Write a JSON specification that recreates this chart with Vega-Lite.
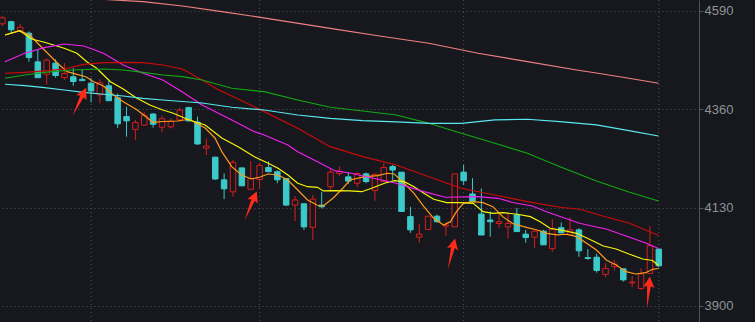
{
  "$schema": "https://vega.github.io/schema/vega-lite/v6.json",
  "width": 699,
  "height": 322,
  "autosize": {"type": "none"},
  "padding": {"left": 0, "top": 0, "right": 56, "bottom": 0},
  "background": "#16181d",
  "view": {"stroke": null},
  "config": {
    "axisY": {"title": null, "format": "d", "grid": true, "gridColor": "#52555d", "gridDash": [1, 3], "gridWidth": 1, "gridOpacity": 1, "domain": true, "domainColor": "#4f5259", "domainWidth": 1, "ticks": true, "tickSize": 4, "tickColor": "#52555d", "labelColor": "#8f9297", "labelFont": "Liberation Sans", "labelFontSize": 13, "labelPadding": 1}
  },
  "datasets": {
    "candles": [
      {"i":0,"o":4560,"h":4578,"l":4555,"c":4574},
      {"i":1,"o":4565,"h":4567,"l":4536,"c":4546},
      {"i":2,"o":4543,"h":4560,"l":4540,"c":4552},
      {"i":3,"o":4538,"h":4542,"l":4471,"c":4481},
      {"i":4,"o":4471,"h":4499,"l":4434,"c":4434},
      {"i":5,"o":4442,"h":4479,"l":4418,"c":4475},
      {"i":6,"o":4468,"h":4477,"l":4434,"c":4439},
      {"i":7,"o":4434,"h":4468,"l":4429,"c":4444},
      {"i":8,"o":4436,"h":4456,"l":4415,"c":4425},
      {"i":9,"o":4430,"h":4454,"l":4427,"c":4427},
      {"i":10,"o":4421,"h":4433,"l":4376,"c":4403},
      {"i":11,"o":4394,"h":4430,"l":4374,"c":4422},
      {"i":12,"o":4415,"h":4427,"l":4380,"c":4380},
      {"i":13,"o":4387,"h":4397,"l":4316,"c":4326},
      {"i":14,"o":4343,"h":4366,"l":4296,"c":4333},
      {"i":15,"o":4313,"h":4335,"l":4288,"c":4329},
      {"i":16,"o":4323,"h":4353,"l":4323,"c":4346},
      {"i":17,"o":4349,"h":4351,"l":4317,"c":4325},
      {"i":18,"o":4318,"h":4344,"l":4306,"c":4338},
      {"i":19,"o":4319,"h":4339,"l":4315,"c":4332},
      {"i":20,"o":4335,"h":4364,"l":4331,"c":4358},
      {"i":21,"o":4364,"h":4366,"l":4331,"c":4333},
      {"i":22,"o":4330,"h":4343,"l":4277,"c":4279},
      {"i":23,"o":4269,"h":4292,"l":4253,"c":4274},
      {"i":24,"o":4248,"h":4249,"l":4195,"c":4197},
      {"i":25,"o":4195,"h":4210,"l":4150,"c":4174},
      {"i":26,"o":4167,"h":4241,"l":4156,"c":4236},
      {"i":27,"o":4223,"h":4223,"l":4181,"c":4181},
      {"i":28,"o":4173,"h":4239,"l":4173,"c":4198},
      {"i":29,"o":4196,"h":4234,"l":4174,"c":4229},
      {"i":30,"o":4224,"h":4238,"l":4214,"c":4214},
      {"i":31,"o":4214,"h":4217,"l":4187,"c":4195},
      {"i":32,"o":4198,"h":4198,"l":4134,"c":4136},
      {"i":33,"o":4136,"h":4157,"l":4099,"c":4148},
      {"i":34,"o":4139,"h":4139,"l":4078,"c":4085},
      {"i":35,"o":4084,"h":4160,"l":4054,"c":4150},
      {"i":36,"o":4136,"h":4167,"l":4128,"c":4132},
      {"i":37,"o":4179,"h":4220,"l":4167,"c":4213},
      {"i":38,"o":4210,"h":4226,"l":4204,"c":4215},
      {"i":39,"o":4202,"h":4212,"l":4185,"c":4192},
      {"i":40,"o":4187,"h":4212,"l":4178,"c":4210},
      {"i":41,"o":4209,"h":4212,"l":4187,"c":4191},
      {"i":42,"o":4170,"h":4210,"l":4146,"c":4208},
      {"i":43,"o":4191,"h":4234,"l":4190,"c":4224},
      {"i":44,"o":4226,"h":4230,"l":4195,"c":4218},
      {"i":45,"o":4213,"h":4213,"l":4121,"c":4121},
      {"i":46,"o":4109,"h":4132,"l":4071,"c":4078},
      {"i":47,"o":4061,"h":4092,"l":4048,"c":4068},
      {"i":48,"o":4079,"h":4110,"l":4079,"c":4110},
      {"i":49,"o":4110,"h":4114,"l":4095,"c":4097},
      {"i":50,"o":4087,"h":4095,"l":4064,"c":4089},
      {"i":51,"o":4085,"h":4209,"l":4085,"c":4209},
      {"i":52,"o":4213,"h":4230,"l":4183,"c":4193},
      {"i":53,"o":4162,"h":4199,"l":4142,"c":4144},
      {"i":54,"o":4115,"h":4175,"l":4066,"c":4066},
      {"i":55,"o":4101,"h":4121,"l":4062,"c":4097},
      {"i":56,"o":4093,"h":4118,"l":4083,"c":4097},
      {"i":57,"o":4085,"h":4118,"l":4058,"c":4093},
      {"i":58,"o":4113,"h":4129,"l":4074,"c":4074},
      {"i":59,"o":4068,"h":4078,"l":4048,"c":4060},
      {"i":60,"o":4061,"h":4075,"l":4036,"c":4075},
      {"i":61,"o":4075,"h":4078,"l":4043,"c":4043},
      {"i":62,"o":4034,"h":4103,"l":4027,"c":4079},
      {"i":63,"o":4083,"h":4095,"l":4070,"c":4071},
      {"i":64,"o":4066,"h":4107,"l":4066,"c":4078},
      {"i":65,"o":4078,"h":4082,"l":4015,"c":4029},
      {"i":66,"o":4013,"h":4033,"l":4008,"c":4011},
      {"i":67,"o":4014,"h":4022,"l":3978,"c":3983},
      {"i":68,"o":3974,"h":4000,"l":3967,"c":3988},
      {"i":69,"o":3992,"h":4008,"l":3983,"c":3998},
      {"i":70,"o":3987,"h":3987,"l":3957,"c":3961},
      {"i":71,"o":3954,"h":3970,"l":3944,"c":3956},
      {"i":72,"o":3941,"h":3988,"l":3937,"c":3975},
      {"i":73,"o":3976,"h":4087,"l":3976,"c":4041},
      {"i":74,"o":4033,"h":4033,"l":3990,"c":3994}
    ],
    "ma": [
      {"ma":"MA5","i":0.3,"v":4533.9},{"ma":"MA5","i":1.97,"v":4543.9},{"ma":"MA5","i":3.08,"v":4533.9},{"ma":"MA5","i":4.74,"v":4498.8},{"ma":"MA5","i":6.19,"v":4468.4},{"ma":"MA5","i":7.3,"v":4448.0},{"ma":"MA5","i":8.41,"v":4441.9},{"ma":"MA5","i":9.41,"v":4436.3},{"ma":"MA5","i":10.3,"v":4424.6},{"ma":"MA5","i":11.41,"v":4414.6},{"ma":"MA5","i":12.52,"v":4393.5},{"ma":"MA5","i":13.63,"v":4377.9},{"ma":"MA5","i":15.08,"v":4360.1},{"ma":"MA5","i":16.19,"v":4342.8},{"ma":"MA5","i":16.97,"v":4329.7},{"ma":"MA5","i":18.08,"v":4331.5},{"ma":"MA5","i":19.74,"v":4332.7},{"ma":"MA5","i":21.08,"v":4336.7},{"ma":"MA5","i":22.86,"v":4316.3},{"ma":"MA5","i":23.97,"v":4293.0},{"ma":"MA5","i":24.74,"v":4260.9},{"ma":"MA5","i":25.86,"v":4225.8},{"ma":"MA5","i":26.97,"v":4206.4},{"ma":"MA5","i":28.08,"v":4197.1},{"ma":"MA5","i":28.97,"v":4201.0},{"ma":"MA5","i":29.97,"v":4208.7},{"ma":"MA5","i":31.08,"v":4206.4},{"ma":"MA5","i":32.19,"v":4194.7},{"ma":"MA5","i":33.3,"v":4171.3},{"ma":"MA5","i":34.41,"v":4147.9},{"ma":"MA5","i":35.52,"v":4135.5},{"ma":"MA5","i":36.19,"v":4133.9},{"ma":"MA5","i":37.3,"v":4152.6},{"ma":"MA5","i":38.41,"v":4176.0},{"ma":"MA5","i":39.19,"v":4194.7},{"ma":"MA5","i":40.86,"v":4202.4},{"ma":"MA5","i":42.3,"v":4204.8},{"ma":"MA5","i":43.41,"v":4210.4},{"ma":"MA5","i":44.19,"v":4208.7},{"ma":"MA5","i":45.3,"v":4187.0},{"ma":"MA5","i":46.41,"v":4163.6},{"ma":"MA5","i":47.52,"v":4132.3},{"ma":"MA5","i":48.63,"v":4105.1},{"ma":"MA5","i":49.74,"v":4089.5},{"ma":"MA5","i":50.52,"v":4097.2},{"ma":"MA5","i":51.19,"v":4120.6},{"ma":"MA5","i":51.97,"v":4140.2},{"ma":"MA5","i":53.08,"v":4144.0},{"ma":"MA5","i":54.19,"v":4141.6},{"ma":"MA5","i":55.3,"v":4132.3},{"ma":"MA5","i":56.41,"v":4108.9},{"ma":"MA5","i":57.52,"v":4093.0},{"ma":"MA5","i":59.19,"v":4083.1},{"ma":"MA5","i":60.3,"v":4077.8},{"ma":"MA5","i":61.41,"v":4070.0},{"ma":"MA5","i":62.52,"v":4066.1},{"ma":"MA5","i":63.63,"v":4067.7},{"ma":"MA5","i":64.74,"v":4062.1},{"ma":"MA5","i":65.86,"v":4046.7},{"ma":"MA5","i":66.97,"v":4031.0},{"ma":"MA5","i":68.08,"v":4007.6},{"ma":"MA5","i":69.19,"v":3995.9},{"ma":"MA5","i":70.3,"v":3980.2},{"ma":"MA5","i":71.41,"v":3974.8},{"ma":"MA5","i":72.52,"v":3977.9},{"ma":"MA5","i":73.3,"v":3985.8},{"ma":"MA5","i":73.97,"v":3987.7},
      {"ma":"MA10","i":0.3,"v":4533.9},{"ma":"MA10","i":1.97,"v":4543.9},{"ma":"MA10","i":3.3,"v":4524.5},{"ma":"MA10","i":4.74,"v":4516.8},{"ma":"MA10","i":6.97,"v":4502.8},{"ma":"MA10","i":8.41,"v":4491.1},{"ma":"MA10","i":9.52,"v":4471.4},{"ma":"MA10","i":10.63,"v":4456.0},{"ma":"MA10","i":12.19,"v":4424.6},{"ma":"MA10","i":13.63,"v":4407.6},{"ma":"MA10","i":15.08,"v":4387.2},{"ma":"MA10","i":16.63,"v":4370.1},{"ma":"MA10","i":18.08,"v":4358.4},{"ma":"MA10","i":19.19,"v":4351.4},{"ma":"MA10","i":21.08,"v":4335.1},{"ma":"MA10","i":22.86,"v":4323.4},{"ma":"MA10","i":24.74,"v":4293.0},{"ma":"MA10","i":26.63,"v":4271.9},{"ma":"MA10","i":28.41,"v":4249.2},{"ma":"MA10","i":29.97,"v":4233.8},{"ma":"MA10","i":31.08,"v":4222.1},{"ma":"MA10","i":32.19,"v":4206.4},{"ma":"MA10","i":33.3,"v":4187.0},{"ma":"MA10","i":34.41,"v":4179.0},{"ma":"MA10","i":35.52,"v":4177.6},{"ma":"MA10","i":36.19,"v":4169.0},{"ma":"MA10","i":37.3,"v":4169.7},{"ma":"MA10","i":39.19,"v":4169.0},{"ma":"MA10","i":40.52,"v":4167.3},{"ma":"MA10","i":41.63,"v":4175.3},{"ma":"MA10","i":43.08,"v":4187.0},{"ma":"MA10","i":44.19,"v":4193.1},{"ma":"MA10","i":45.3,"v":4190.7},{"ma":"MA10","i":46.41,"v":4179.0},{"ma":"MA10","i":47.52,"v":4163.6},{"ma":"MA10","i":48.63,"v":4149.6},{"ma":"MA10","i":50.08,"v":4141.6},{"ma":"MA10","i":51.63,"v":4141.6},{"ma":"MA10","i":53.08,"v":4140.2},{"ma":"MA10","i":54.19,"v":4120.6},{"ma":"MA10","i":55.3,"v":4116.8},{"ma":"MA10","i":56.41,"v":4118.2},{"ma":"MA10","i":58.08,"v":4114.5},{"ma":"MA10","i":59.52,"v":4108.9},{"ma":"MA10","i":60.63,"v":4097.2},{"ma":"MA10","i":61.74,"v":4081.7},{"ma":"MA10","i":63.3,"v":4076.1},{"ma":"MA10","i":64.74,"v":4070.0},{"ma":"MA10","i":66.19,"v":4056.0},{"ma":"MA10","i":67.74,"v":4040.3},{"ma":"MA10","i":69.19,"v":4033.3},{"ma":"MA10","i":70.63,"v":4021.6},{"ma":"MA10","i":72.19,"v":4009.9},{"ma":"MA10","i":73.3,"v":4006.4},{"ma":"MA10","i":73.97,"v":3994.7},
      {"ma":"MA20","i":0.3,"v":4471.4},{"ma":"MA20","i":2.52,"v":4491.1},{"ma":"MA20","i":4.74,"v":4504.2},{"ma":"MA20","i":6.97,"v":4512.8},{"ma":"MA20","i":9.19,"v":4508.1},{"ma":"MA20","i":11.41,"v":4491.1},{"ma":"MA20","i":13.63,"v":4463.7},{"ma":"MA20","i":15.86,"v":4444.3},{"ma":"MA20","i":18.08,"v":4428.6},{"ma":"MA20","i":20.3,"v":4400.5},{"ma":"MA20","i":22.52,"v":4370.1},{"ma":"MA20","i":25.86,"v":4335.1},{"ma":"MA20","i":28.41,"v":4307.7},{"ma":"MA20","i":29.52,"v":4300.0},{"ma":"MA20","i":32.19,"v":4276.6},{"ma":"MA20","i":33.3,"v":4260.9},{"ma":"MA20","i":35.86,"v":4233.8},{"ma":"MA20","i":37.52,"v":4215.8},{"ma":"MA20","i":39.19,"v":4211.1},{"ma":"MA20","i":41.19,"v":4201.7},{"ma":"MA20","i":44.41,"v":4187.0},{"ma":"MA20","i":47.52,"v":4167.3},{"ma":"MA20","i":49.97,"v":4154.3},{"ma":"MA20","i":53.63,"v":4155.7},{"ma":"MA20","i":55.86,"v":4151.9},{"ma":"MA20","i":57.52,"v":4142.1},{"ma":"MA20","i":59.74,"v":4133.9},{"ma":"MA20","i":61.41,"v":4119.9},{"ma":"MA20","i":65.08,"v":4093.4},{"ma":"MA20","i":66.97,"v":4084.8},{"ma":"MA20","i":68.08,"v":4080.1},{"ma":"MA20","i":70.63,"v":4061.4},{"ma":"MA20","i":72.52,"v":4047.4},{"ma":"MA20","i":73.97,"v":4034.5},
      {"ma":"MA30","i":0.3,"v":4444.3},{"ma":"MA30","i":2.52,"v":4446.6},{"ma":"MA30","i":4.74,"v":4449.7},{"ma":"MA30","i":6.97,"v":4454.3},{"ma":"MA30","i":9.19,"v":4465.3},{"ma":"MA30","i":11.41,"v":4469.1},{"ma":"MA30","i":13.63,"v":4470.0},{"ma":"MA30","i":15.86,"v":4469.1},{"ma":"MA30","i":18.08,"v":4463.7},{"ma":"MA30","i":20.3,"v":4454.3},{"ma":"MA30","i":22.52,"v":4428.6},{"ma":"MA30","i":24.19,"v":4407.6},{"ma":"MA30","i":25.86,"v":4391.2},{"ma":"MA30","i":29.52,"v":4354.5},{"ma":"MA30","i":33.3,"v":4315.6},{"ma":"MA30","i":36.97,"v":4272.6},{"ma":"MA30","i":40.63,"v":4249.2},{"ma":"MA30","i":44.41,"v":4229.8},{"ma":"MA30","i":48.08,"v":4202.4},{"ma":"MA30","i":51.74,"v":4175.3},{"ma":"MA30","i":55.52,"v":4159.6},{"ma":"MA30","i":59.19,"v":4144.0},{"ma":"MA30","i":62.86,"v":4130.9},{"ma":"MA30","i":65.08,"v":4126.2},{"ma":"MA30","i":68.08,"v":4108.2},{"ma":"MA30","i":70.63,"v":4094.1},{"ma":"MA30","i":73.97,"v":4064.9},
      {"ma":"MA60","i":0.3,"v":4432.6},{"ma":"MA60","i":2.52,"v":4440.3},{"ma":"MA60","i":4.74,"v":4446.6},{"ma":"MA60","i":7.74,"v":4452.0},{"ma":"MA60","i":11.41,"v":4454.3},{"ma":"MA60","i":13.63,"v":4452.0},{"ma":"MA60","i":15.86,"v":4446.6},{"ma":"MA60","i":18.08,"v":4440.3},{"ma":"MA60","i":20.3,"v":4436.3},{"ma":"MA60","i":22.52,"v":4428.6},{"ma":"MA60","i":25.86,"v":4409.2},{"ma":"MA60","i":29.52,"v":4401.2},{"ma":"MA60","i":33.3,"v":4381.8},{"ma":"MA60","i":36.97,"v":4364.8},{"ma":"MA60","i":40.63,"v":4356.1},{"ma":"MA60","i":44.41,"v":4346.7},{"ma":"MA60","i":48.08,"v":4327.3},{"ma":"MA60","i":51.74,"v":4303.9},{"ma":"MA60","i":55.52,"v":4280.6},{"ma":"MA60","i":59.19,"v":4257.2},{"ma":"MA60","i":62.86,"v":4225.8},{"ma":"MA60","i":66.97,"v":4192.4},{"ma":"MA60","i":70.63,"v":4166.6},{"ma":"MA60","i":73.97,"v":4145.6},
      {"ma":"MA120","i":0.3,"v":4418.6},{"ma":"MA120","i":2.52,"v":4415.3},{"ma":"MA120","i":4.74,"v":4410.6},{"ma":"MA120","i":6.97,"v":4405.2},{"ma":"MA120","i":9.19,"v":4399.8},{"ma":"MA120","i":11.41,"v":4395.2},{"ma":"MA120","i":13.63,"v":4391.2},{"ma":"MA120","i":15.86,"v":4385.8},{"ma":"MA120","i":18.08,"v":4381.8},{"ma":"MA120","i":20.3,"v":4378.3},{"ma":"MA120","i":22.52,"v":4374.8},{"ma":"MA120","i":25.86,"v":4364.8},{"ma":"MA120","i":29.52,"v":4358.4},{"ma":"MA120","i":33.3,"v":4346.7},{"ma":"MA120","i":36.97,"v":4339.0},{"ma":"MA120","i":40.63,"v":4333.4},{"ma":"MA120","i":44.41,"v":4330.4},{"ma":"MA120","i":48.08,"v":4327.3},{"ma":"MA120","i":51.74,"v":4327.3},{"ma":"MA120","i":55.52,"v":4335.1},{"ma":"MA120","i":59.19,"v":4336.7},{"ma":"MA120","i":62.86,"v":4331.1},{"ma":"MA120","i":66.97,"v":4323.4},{"ma":"MA120","i":70.63,"v":4310.0},{"ma":"MA120","i":73.97,"v":4297.6},
      {"ma":"MA250","i":9.19,"v":4620.4},{"ma":"MA250","i":12.52,"v":4615.7},{"ma":"MA250","i":15.86,"v":4611.8},{"ma":"MA250","i":20.3,"v":4601.7},{"ma":"MA250","i":24.74,"v":4588.4},{"ma":"MA250","i":28.08,"v":4578.3},{"ma":"MA250","i":31.41,"v":4567.3},{"ma":"MA250","i":36.97,"v":4549.5},{"ma":"MA250","i":42.52,"v":4531.5},{"ma":"MA250","i":48.08,"v":4514.5},{"ma":"MA250","i":53.63,"v":4491.1},{"ma":"MA250","i":59.19,"v":4471.4},{"ma":"MA250","i":64.74,"v":4452.0},{"ma":"MA250","i":66.97,"v":4445.0},{"ma":"MA250","i":70.63,"v":4432.6},{"ma":"MA250","i":73.97,"v":4420.9}
    ],
    "arrows": [
      {"i":8.67,"v":4377,"tilt":26},
      {"i":27.99,"v":4134,"tilt":23},
      {"i":50.63,"v":4022,"tilt":13},
      {"i":72.83,"v":3932,"tilt":5}
    ],
    "vgrid": [{"i":10},{"i":29},{"i":52},{"i":74}]
  },
  "layer": [
    {
      "data": {"name": "vgrid"},
      "mark": {"type": "rule", "color": "#52555d", "strokeDash": [1, 3], "strokeWidth": 1},
      "encoding": {
        "x": {"field": "i", "type": "quantitative", "scale": {"domain": [0.3, 77.97], "nice": false, "zero": false}, "axis": null}
      }
    },
    {
      "data": {"name": "candles"},
      "mark": {"type": "rule", "strokeWidth": 1, "clip": true},
      "encoding": {
        "x": {"field": "i", "type": "quantitative", "scale": {"domain": [0.3, 77.97], "nice": false, "zero": false}, "axis": null},
        "y": {"field": "l", "type": "quantitative", "scale": {"domain": [3862.5, 4615.7], "nice": false, "zero": false},
          "axis": {"orient": "right", "values": [3900, 4130, 4360, 4590], "title": null, "format": "d", "grid": true, "gridColor": "#52555d", "gridDash": [1, 3]}},
        "y2": {"field": "h"},
        "color": {"condition": {"test": "datum.c < datum.o", "value": "#3cc9ca"}, "value": "#d81e1e"}
      }
    },
    {
      "data": {"name": "candles"},
      "mark": {"type": "bar", "size": 5.5, "strokeWidth": 1, "clip": true},
      "encoding": {
        "x": {"field": "i", "type": "quantitative", "scale": {"domain": [0.3, 77.97], "nice": false, "zero": false}, "axis": null},
        "y": {"field": "o", "type": "quantitative", "scale": {"domain": [3862.5, 4615.7], "nice": false, "zero": false},
          "axis": {"orient": "right", "values": [3900, 4130, 4360, 4590], "title": null, "format": "d", "grid": true, "gridColor": "#52555d", "gridDash": [1, 3]}},
        "y2": {"field": "c"},
        "fill": {"condition": {"test": "datum.c < datum.o", "value": "#3cc9ca"}, "value": "#16181d"},
        "stroke": {"condition": {"test": "datum.c < datum.o", "value": "#3cc9ca"}, "value": "#d81e1e"}
      }
    },
    {
      "data": {"name": "ma"},
      "mark": {"type": "line", "strokeWidth": 1.2, "clip": true},
      "encoding": {
        "x": {"field": "i", "type": "quantitative", "scale": {"domain": [0.3, 77.97], "nice": false, "zero": false}, "axis": null},
        "y": {"field": "v", "type": "quantitative", "scale": {"domain": [3862.5, 4615.7], "nice": false, "zero": false},
          "axis": {"orient": "right", "values": [3900, 4130, 4360, 4590], "title": null, "format": "d", "grid": true, "gridColor": "#52555d", "gridDash": [1, 3]}},
        "color": {"field": "ma", "type": "nominal", "legend": null,
          "scale": {"domain": ["MA250", "MA120", "MA60", "MA30", "MA20", "MA5", "MA10"], "range": ["#f08080", "#5ae8f0", "#12a812", "#cc0a0a", "#f020f0", "#ff9a1a", "#f5f50a"]}},
        "order": {"field": "i", "type": "quantitative"}
      }
    },
    {
      "data": {"name": "arrows"},
      "mark": {"type": "point", "filled": true, "size": 1000, "opacity": 1, "color": "#ff2a1a", "strokeWidth": 0,
        "shape": "M0,-1 L0.36,-0.3 L0.12,-0.4 L0,1 L-0.12,-0.4 L-0.36,-0.3 Z"},
      "encoding": {
        "x": {"field": "i", "type": "quantitative", "scale": {"domain": [0.3, 77.97], "nice": false, "zero": false}, "axis": null},
        "y": {"field": "v", "type": "quantitative", "scale": {"domain": [3862.5, 4615.7], "nice": false, "zero": false},
          "axis": {"orient": "right", "values": [3900, 4130, 4360, 4590], "title": null, "format": "d", "grid": true, "gridColor": "#52555d", "gridDash": [1, 3]}},
        "angle": {"field": "tilt", "type": "quantitative", "scale": null}
      }
    }
  ]
}
